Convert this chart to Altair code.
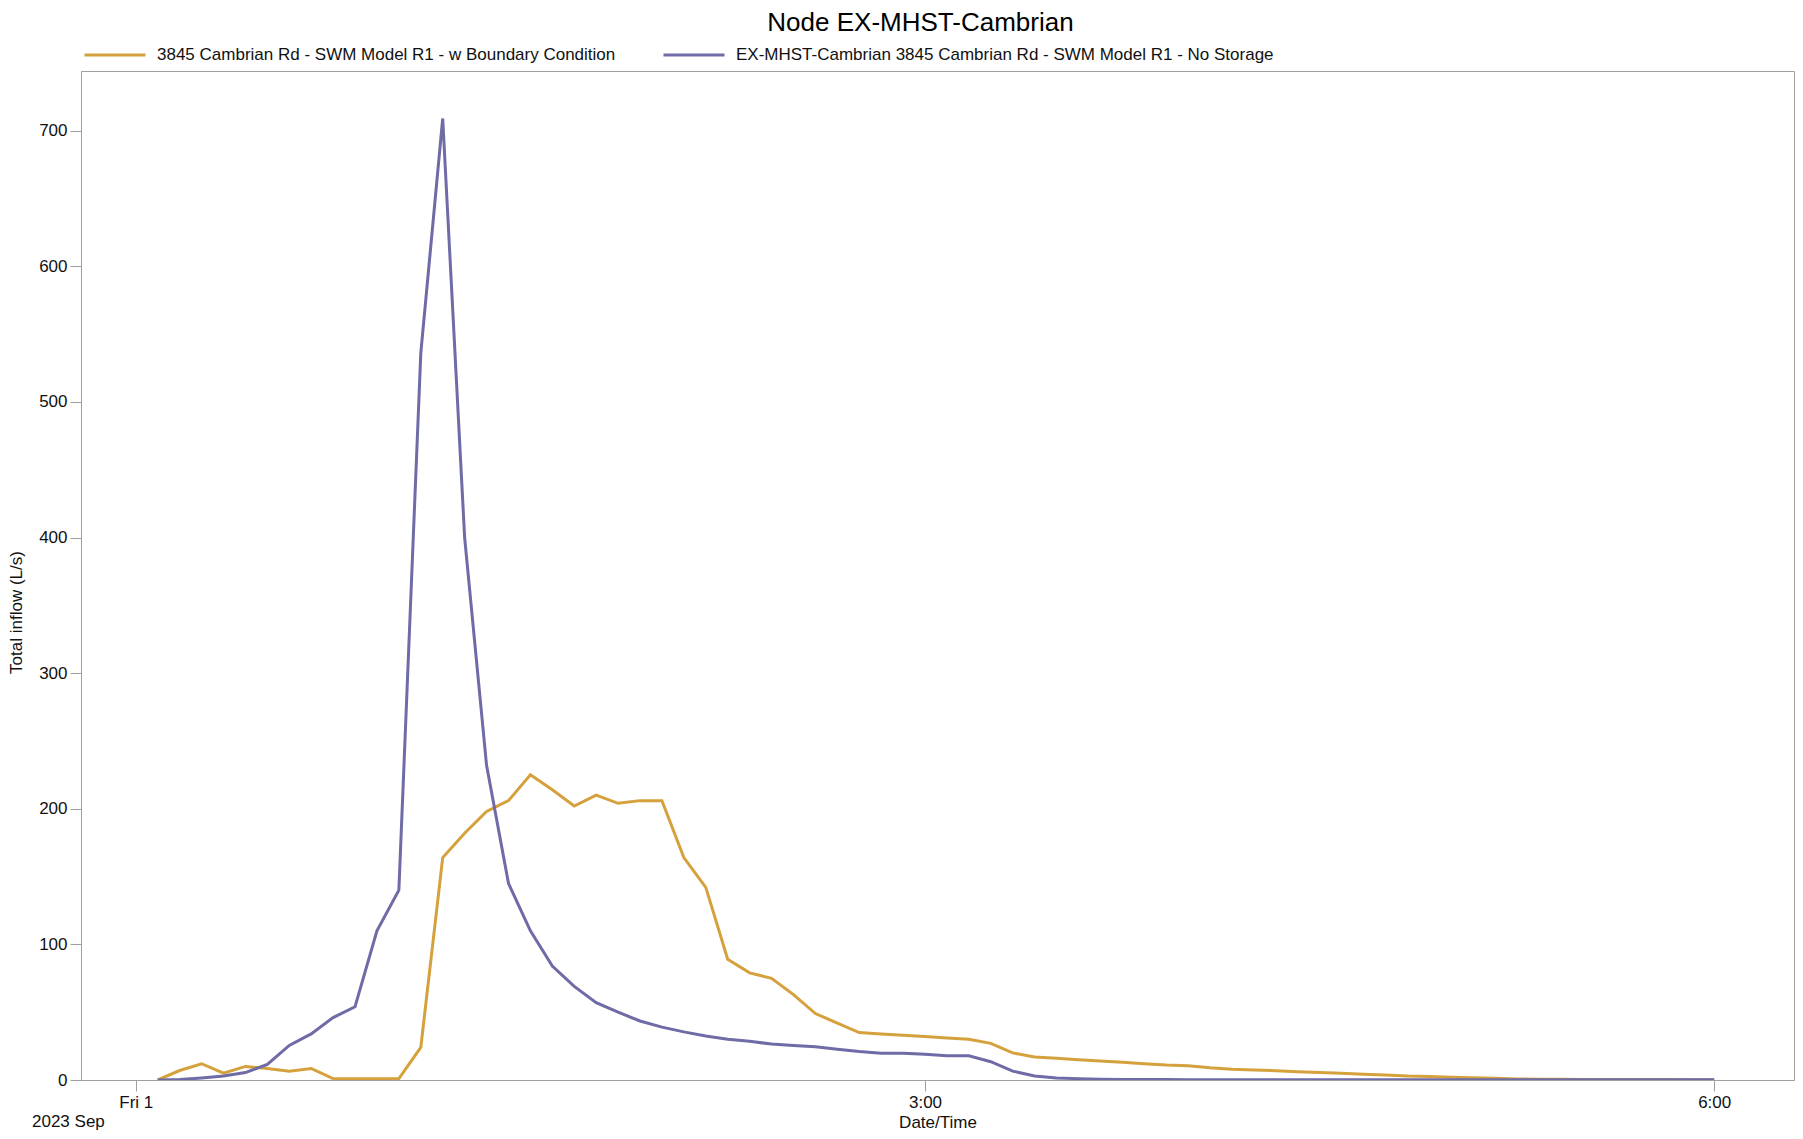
import altair as alt
import pandas as pd

# ---------------- data ----------------
minutes = list(range(5, 365, 5))  # 5-minute reporting steps from Fri 1 00:05 to 06:00

series_names = [
    "3845 Cambrian Rd - SWM Model R1 - w Boundary Condition",
    "EX-MHST-Cambrian 3845 Cambrian Rd - SWM Model R1 - No Storage",
]
series_colors = ["#D5A13C", "#6E6BA6"]

boundary = [
    0, 7, 12, 5, 10, 8.5, 6.5, 8.5, 1, 1, 1, 1,
    24, 164, 182, 198, 206, 225, 214, 202, 210, 204, 206, 206,
    164, 142, 89, 79, 75, 63, 49, 42, 35, 34, 33, 32,
    31, 30, 27, 20, 17, 16, 15, 14, 13, 12, 11, 10.5,
    9, 8, 7.4, 6.9, 6.1, 5.5, 4.9, 4.3, 3.7, 2.9, 2.5, 2,
    1.6, 1.2, 0.8, 0.6, 0.5, 0.4, 0.4, 0.3, 0.3, 0.3, 0.2, 0.2,
]

no_storage = [
    0, 0.3, 1.5, 3, 5.5, 11.5, 25.5, 34, 46, 54, 110, 140,
    536, 709, 400, 232, 145, 110, 84, 69, 57, 50, 43.5, 39,
    35.5, 32.5, 30, 28.5, 26.5, 25.5, 24.5, 22.6, 21, 19.8, 19.7, 18.9,
    17.9, 17.9, 13.5, 6.5, 3, 1.5, 1, 0.6, 0.4, 0.3, 0.3, 0.2,
    0.2, 0.2, 0.2, 0.2, 0.2, 0.2, 0.2, 0.2, 0.2, 0.2, 0.2, 0.2,
    0.2, 0.2, 0.2, 0.2, 0.2, 0.2, 0.2, 0.2, 0.2, 0.2, 0.2, 0.2,
]

x_tick_values = [0, 180, 360]
x_tick_labels = ["Fri 1", "3:00", "6:00"]
y_tick_values = [0, 100, 200, 300, 400, 500, 600, 700]
date_label = ["2023 Sep"]

# ---------------- table ----------------
rows = []
for name, vals in zip(series_names, [boundary, no_storage]):
    for m, v in zip(minutes, vals):
        rows.append({"t": m, "flow": v, "series": name})
df = pd.DataFrame(rows)

label_expr = "''"
for v, lab in reversed(list(zip(x_tick_values, x_tick_labels))):
    label_expr = f"datum.value == {v} ? '{lab}' : ({label_expr})"

FONT = "Liberation Sans"
GRAY = "#a0a0a0"
W, H = 1713, 1009

lines = alt.Chart(df).mark_line(strokeWidth=3, clip=True).encode(
    x=alt.X(
        "t:Q",
        scale=alt.Scale(domain=[-12.5, 378.2], nice=False, zero=False),
        axis=alt.Axis(
            values=x_tick_values,
            labelExpr=label_expr,
            title="Date/Time",
            grid=False,
            tickSize=11,
            labelPadding=3,
            titleY=42,
            titleBaseline="middle",
        ),
    ),
    y=alt.Y(
        "flow:Q",
        scale=alt.Scale(domain=[0, 744], nice=False),
        axis=alt.Axis(
            values=y_tick_values,
            title="Total inflow (L/s)",
            grid=False,
            tickSize=11,
            labelPadding=3,
            titleX=-65,
            titleY=541,
            titleAngle=-90,
            titleAlign="center",
            titleBaseline="middle",
        ),
    ),
    color=alt.Color(
        "series:N",
        sort=series_names,
        scale=alt.Scale(domain=series_names, range=series_colors),
        legend=alt.Legend(
            orient="none",
            legendX=2,
            legendY=-48,
            direction="horizontal",
            title=None,
            symbolType="stroke",
            symbolSize=3721,
            symbolStrokeWidth=3,
            labelFontSize=17,
            labelFont=FONT,
            labelColor="#111",
            labelOffset=10,
            columnPadding=41,
            padding=0,
            labelLimit=800,
        ),
    ),
)

date_text = alt.Chart(pd.DataFrame({"label": date_label})).mark_text(
    align="left", baseline="middle", fontSize=17, font=FONT, color="#111"
).encode(text="label:N", x=alt.value(-49), y=alt.value(H + 42))

chart = (
    alt.layer(lines, date_text)
    .properties(
        width=W,
        height=H,
        padding={"left": 73, "top": 63, "right": 1, "bottom": 51},
        autosize=alt.AutoSizeParams(type="none"),
        title=alt.Title(
            "Node EX-MHST-Cambrian",
            fontSize=26,
            font=FONT,
            fontWeight="normal",
            color="#000",
            anchor="middle",
            dx=-17,
            dy=23,
            offset=10,
        ),
    )
    .configure_view(stroke=GRAY, strokeWidth=1)
    .configure_axis(
        domainColor=GRAY,
        tickColor=GRAY,
        labelFont=FONT,
        labelFontSize=17,
        labelColor="#111",
        titleFont=FONT,
        titleFontSize=17,
        titleFontWeight="normal",
        titleColor="#111",
    )
)

chart.save("out.html", embed_options={"renderer": "svg", "actions": False})
